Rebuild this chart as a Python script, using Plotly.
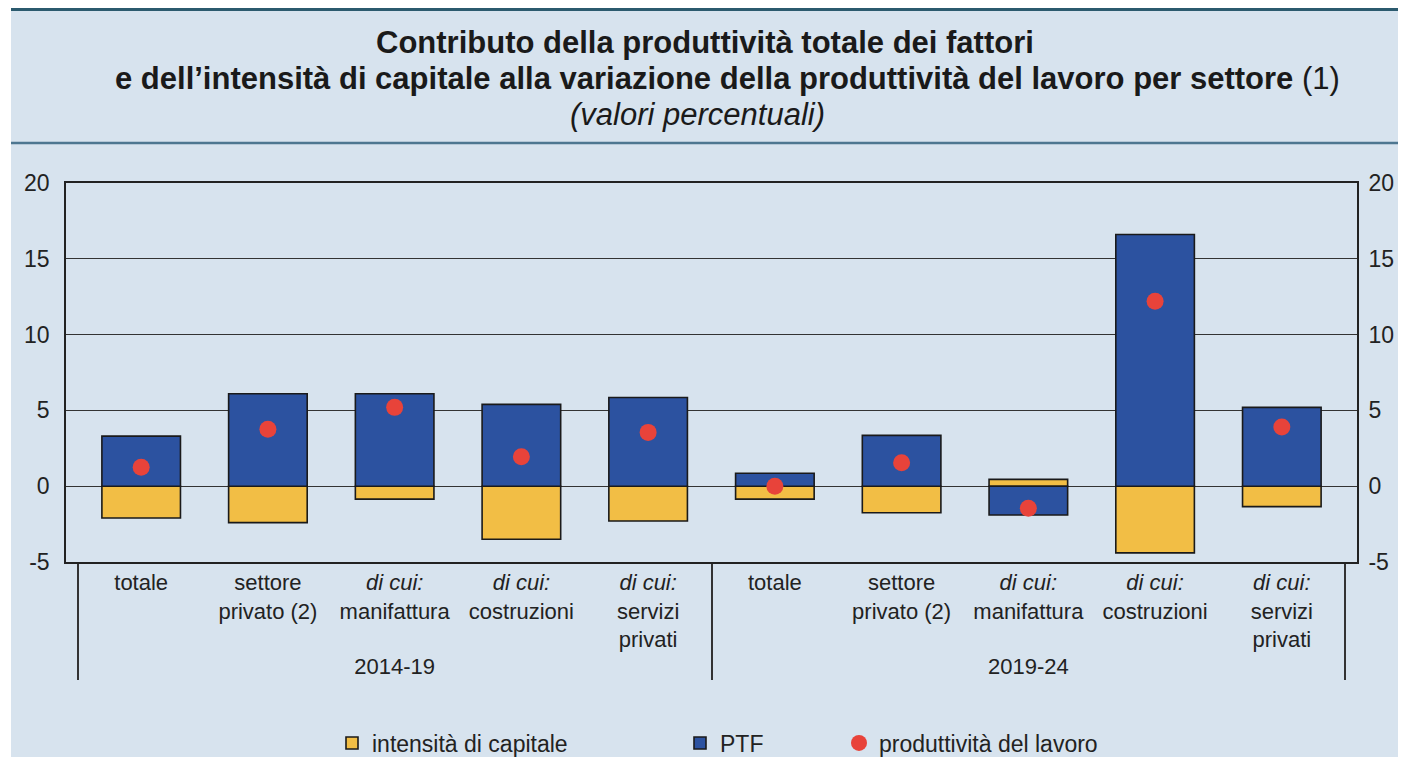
import plotly.graph_objects as go

# periods and sectors
periodi = ['2014-19'] * 5 + ['2019-24'] * 5
settori = ['totale', 'settore<br>privato (2)', '<i>di cui:</i><br>manifattura',
           '<i>di cui:</i><br>costruzioni', '<i>di cui:</i><br>servizi<br>privati'] * 2

intensita = [-2.1, -2.4, -0.85, -3.5, -2.3, -0.85, -1.75, 0.45, -4.4, -1.35]
ptf = [3.3, 6.1, 6.1, 5.4, 5.85, 0.85, 3.35, -1.9, 16.6, 5.2]
produttivita = [1.25, 3.75, 5.2, 1.95, 3.55, 0.0, 1.55, -1.45, 12.2, 3.9]

y_ticks = [-5, 0, 5, 10, 15, 20]
y_labels = ['-5', '0', '5', '10', '15', '20']

x = [periodi, settori]
font = 'Liberation Sans, Arial, sans-serif'
ink = '#222222'

# the page body adds an 8px offset; plot area on screen: x 66..1357, y 183..562
OFF = 8
W, H = 1406 - OFF, 765 - 2 * OFF
L, T = 66 - OFF, 183 - OFF
R, B = W - (1357 - OFF), H - (562 - OFF)
pw, ph = W - L - R, H - T - B


def px(v):
    return (v - OFF - L) / pw


def py(v):
    return (H - B - (v - OFF)) / ph


fig = go.Figure()

fig.add_trace(go.Bar(x=x, y=intensita, name='intensità di capitale', legend='legend',
                     marker=dict(color='#f2be45', line=dict(color='#1a1a1a', width=1.6))))
fig.add_trace(go.Bar(x=x, y=ptf, name='PTF', legend='legend2',
                     marker=dict(color='#2c52a0', line=dict(color='#1a1a1a', width=1.6))))
fig.add_trace(go.Scatter(x=x, y=produttivita, mode='markers', name='produttività del lavoro',
                         legend='legend3', marker=dict(color='#e8433a', size=17)))
# invisible trace so the right-hand axis is drawn
fig.add_trace(go.Scatter(x=x, y=produttivita, yaxis='y2', mode='markers',
                         marker=dict(opacity=0), showlegend=False, hoverinfo='skip'))

leg = dict(orientation='h', yanchor='middle', xanchor='left', y=py(743),
           bgcolor='rgba(0,0,0,0)', font=dict(size=23, color=ink), itemclick=False)

fig.update_layout(
    width=W, height=H,
    paper_bgcolor='white',
    plot_bgcolor='white',
    barmode='relative',
    bargap=0.38,
    margin=dict(l=L, r=R, t=T, b=B, autoexpand=False),
    font=dict(family=font, size=22, color=ink),
    xaxis=dict(
        type='multicategory', automargin=False,
        showline=True, linecolor=ink, linewidth=1.6, mirror=True,
        showdividers=True, dividercolor='#333333', dividerwidth=1.6,
        tickfont=dict(size=22, color=ink),
        showgrid=False,
    ),
    yaxis=dict(
        range=[-5, 20], tickvals=y_ticks, ticktext=y_labels, automargin=False,
        showgrid=True, gridcolor='#333333', gridwidth=1.2,
        zeroline=True, zerolinecolor='#333333', zerolinewidth=1.2,
        showline=True, linecolor=ink, linewidth=1.6,
        ticks='outside', ticklen=10, tickcolor='rgba(0,0,0,0)',
        tickfont=dict(size=23, color=ink),
    ),
    yaxis2=dict(
        range=[-5, 20], tickvals=y_ticks, ticktext=y_labels, overlaying='y', side='right',
        automargin=False, showgrid=False, zeroline=False,
        showline=True, linecolor=ink, linewidth=1.6,
        ticks='outside', ticklen=5, tickcolor='rgba(0,0,0,0)',
        tickfont=dict(size=23, color=ink),
    ),
    legend=dict(leg, x=px(372 - 40)),
    legend2=dict(leg, x=px(720 - 40)),
    legend3=dict(leg, x=px(879 - 40)),
    showlegend=True,
)

# light blue background panel and header rules
fig.add_shape(type='rect', xref='paper', yref='paper', x0=px(11), x1=px(1430), y0=py(800), y1=py(8),
              fillcolor='#d7e3ee', line=dict(width=0), layer='below')
fig.add_shape(type='line', xref='paper', yref='paper', x0=px(11), x1=px(1430), y0=py(9.5), y1=py(9.5),
              line=dict(color='#2b5a6e', width=3))
fig.add_shape(type='line', xref='paper', yref='paper', x0=px(11), x1=px(1430), y0=py(143), y1=py(143),
              line=dict(color='#4d7690', width=2.5))

title_font = dict(size=31, color='#1a1a1a')
fig.add_annotation(text='<b>Contributo della produttività totale dei fattori</b>',
                   xref='paper', yref='paper', x=px(705), y=py(43), showarrow=False,
                   xanchor='center', yanchor='middle', font=title_font)
fig.add_annotation(text="<b>e dell’intensità di capitale alla variazione della produttività del lavoro per settore</b> (1)",
                   xref='paper', yref='paper', x=px(727), y=py(79), showarrow=False,
                   xanchor='center', yanchor='middle', font=title_font)
fig.add_annotation(text='<i>(valori percentuali)</i>',
                   xref='paper', yref='paper', x=px(697), y=py(114), showarrow=False,
                   xanchor='center', yanchor='middle', font=title_font)

fig.write_html("out.html")
